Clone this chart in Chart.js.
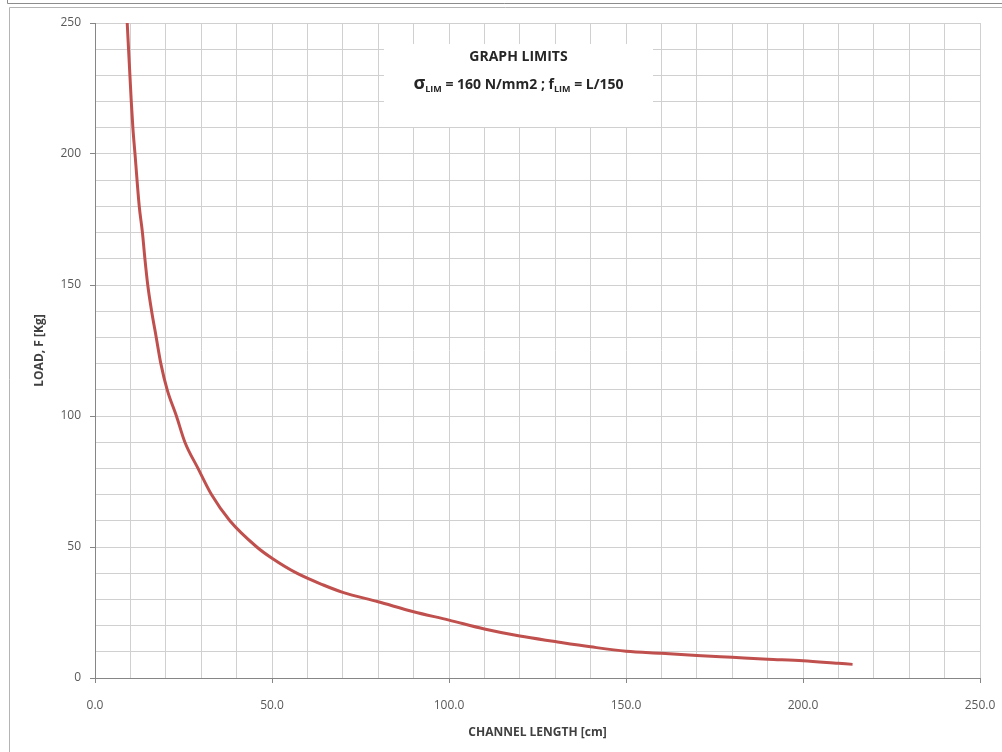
<!DOCTYPE html>
<html>
<head>
<meta charset="utf-8">
<script src="https://cdn.jsdelivr.net/npm/chart.js@4"></script>
<style>
    html, body { margin: 0; padding: 0; background: #ffffff; }
    #wrap { width: 1002px; height: 752px; }
</style>
</head>
<body>
<div id="wrap"><canvas id="loadChart" width="1002" height="752"></canvas></div>
<script>
// channel length [cm] vs load F [Kg]
const channelLength = [9.1, 10.25, 10.7, 11.3, 12.5, 13.4, 14.1, 14.9, 16.0, 17.3, 18.6, 20.4, 23.0, 25.4, 29.1, 32.9, 38.1, 45.7, 50.0, 57.0, 64.5, 70, 80, 90, 100, 110, 120, 130, 140, 150, 160, 170, 180, 190, 200, 210, 214];
const loadValues = [250, 220, 210, 200, 180, 170, 160, 150, 140, 130, 120, 110, 100, 90, 80, 70, 60, 50, 45.7, 40, 35.5, 32.7, 29.1, 25.3, 22.1, 18.7, 16.0, 13.9, 11.9, 10.2, 9.4, 8.6, 7.9, 7.2, 6.6, 5.6, 5.2];
const xRange = [0, 250];
const yRange = [0, 250];
const labelEvery = 50;
const boxTitle = 'GRAPH LIMITS';

const fontFamily = '"Open Sans", "Liberation Sans", sans-serif';

const points = channelLength.map(function (x, i) {
    return { x: x, y: loadValues[i] };
});

function isMajor(value) {
    return Math.round(value) % labelEvery === 0;
}

// frame lines and the white "graph limits" box
const framePlugin = {
    id: 'frame',
    beforeDraw: function (chart) {
        const ctx = chart.ctx;
        ctx.save();
        ctx.fillStyle = '#ffffff';
        ctx.fillRect(0, 0, chart.width, chart.height);
        ctx.strokeStyle = '#8c8c8c';
        ctx.lineWidth = 1;
        ctx.beginPath();
        ctx.moveTo(7.5, 0);
        ctx.lineTo(7.5, 3.5);
        ctx.lineTo(chart.width, 3.5);
        ctx.stroke();
        ctx.strokeStyle = '#b4b4b4';
        ctx.beginPath();
        ctx.moveTo(9.5, chart.height);
        ctx.lineTo(9.5, 7.5);
        ctx.lineTo(chart.width, 7.5);
        ctx.stroke();
        ctx.restore();
    },
    beforeDatasetsDraw: function (chart) {
        const ctx = chart.ctx;
        const area = chart.chartArea;
        const boxLeft = area.left + 289;
        const boxTop = area.top + 21;
        const boxW = 269;
        const boxH = 83;
        const cx = boxLeft + boxW / 2;
        ctx.save();
        ctx.fillStyle = '#ffffff';
        ctx.fillRect(boxLeft, boxTop, boxW, boxH);
        ctx.fillStyle = '#262626';
        ctx.textBaseline = 'middle';
        ctx.textAlign = 'center';
        ctx.font = 'bold 14px ' + fontFamily;
        ctx.fillText(boxTitle, cx, boxTop + 13);

        // second line with subscripts
        const big = 'bold 14px ' + fontFamily;
        const sub = 'bold 9px ' + fontFamily;
        const parts = [
            { t: 'σ', f: 'bold 18px ' + fontFamily, dy: -1 },
            { t: 'LIM', f: sub, dy: 4 },
            { t: ' = 160 N/mm2 ; f', f: big, dy: 0 },
            { t: 'LIM', f: sub, dy: 4 },
            { t: ' = L/150', f: big, dy: 0 }
        ];
        let total = 0;
        parts.forEach(function (p) {
            ctx.font = p.f;
            p.w = ctx.measureText(p.t).width;
            total += p.w;
        });
        let x = cx - total / 2;
        const y = boxTop + 41;
        ctx.textAlign = 'left';
        parts.forEach(function (p) {
            ctx.font = p.f;
            ctx.fillText(p.t, x, y + p.dy);
            x += p.w;
        });
        ctx.restore();
    }
};

const ctx = document.getElementById('loadChart').getContext('2d');
new Chart(ctx, {
    type: 'scatter',
    data: {
        datasets: [{
            label: 'Load',
            data: points,
            showLine: true,
            borderColor: '#c0504d',
            backgroundColor: '#c0504d',
            borderWidth: 3,
            pointRadius: 0,
            cubicInterpolationMode: 'monotone'
        }]
    },
    options: {
        responsive: false,
        animation: false,
        layout: {
            padding: { left: 0, right: 22, top: 23, bottom: 0 }
        },
        plugins: {
            legend: { display: false },
            tooltip: { enabled: false }
        },
        scales: {
            x: {
                type: 'linear',
                min: xRange[0],
                max: xRange[1],
                afterFit: function (scale) {
                    scale.height = 74;
                    scale.paddingLeft = 0;
                    scale.paddingRight = 0;
                },
                border: { color: '#868686', width: 1 },
                grid: {
                    color: '#d0d0d0',
                    lineWidth: 1,
                    tickLength: 5,
                    tickColor: function (c) {
                        return isMajor(c.tick.value) ? '#868686' : 'rgba(0,0,0,0)';
                    }
                },
                ticks: {
                    stepSize: 10,
                    autoSkip: false,
                    maxRotation: 0,
                    padding: 15,
                    color: '#595959',
                    font: { family: fontFamily, size: 12 },
                    callback: function (v) {
                        return isMajor(v) ? Number(v).toFixed(1) : '';
                    }
                },
                title: {
                    display: true,
                    text: 'CHANNEL LENGTH [cm]',
                    color: '#404040',
                    font: { family: fontFamily, size: 12, weight: 'bold' },
                    padding: { top: 0, bottom: 12 }
                }
            },
            y: {
                type: 'linear',
                min: yRange[0],
                max: yRange[1],
                afterFit: function (scale) { scale.width = 95; },
                border: { color: '#868686', width: 1 },
                grid: {
                    color: '#d0d0d0',
                    lineWidth: 1,
                    tickLength: 5,
                    tickColor: function (c) {
                        return isMajor(c.tick.value) ? '#868686' : 'rgba(0,0,0,0)';
                    }
                },
                ticks: {
                    stepSize: 10,
                    autoSkip: false,
                    padding: 9,
                    color: '#595959',
                    font: { family: fontFamily, size: 12 },
                    callback: function (v) {
                        return isMajor(v) ? String(Math.round(v)) : '';
                    }
                },
                title: {
                    display: true,
                    text: 'LOAD, F [Kg]',
                    color: '#404040',
                    font: { family: fontFamily, size: 12, weight: 'bold' },
                    padding: { top: 32, bottom: 0 }
                }
            }
        }
    },
    plugins: [framePlugin]
});
</script>
</body>
</html>
